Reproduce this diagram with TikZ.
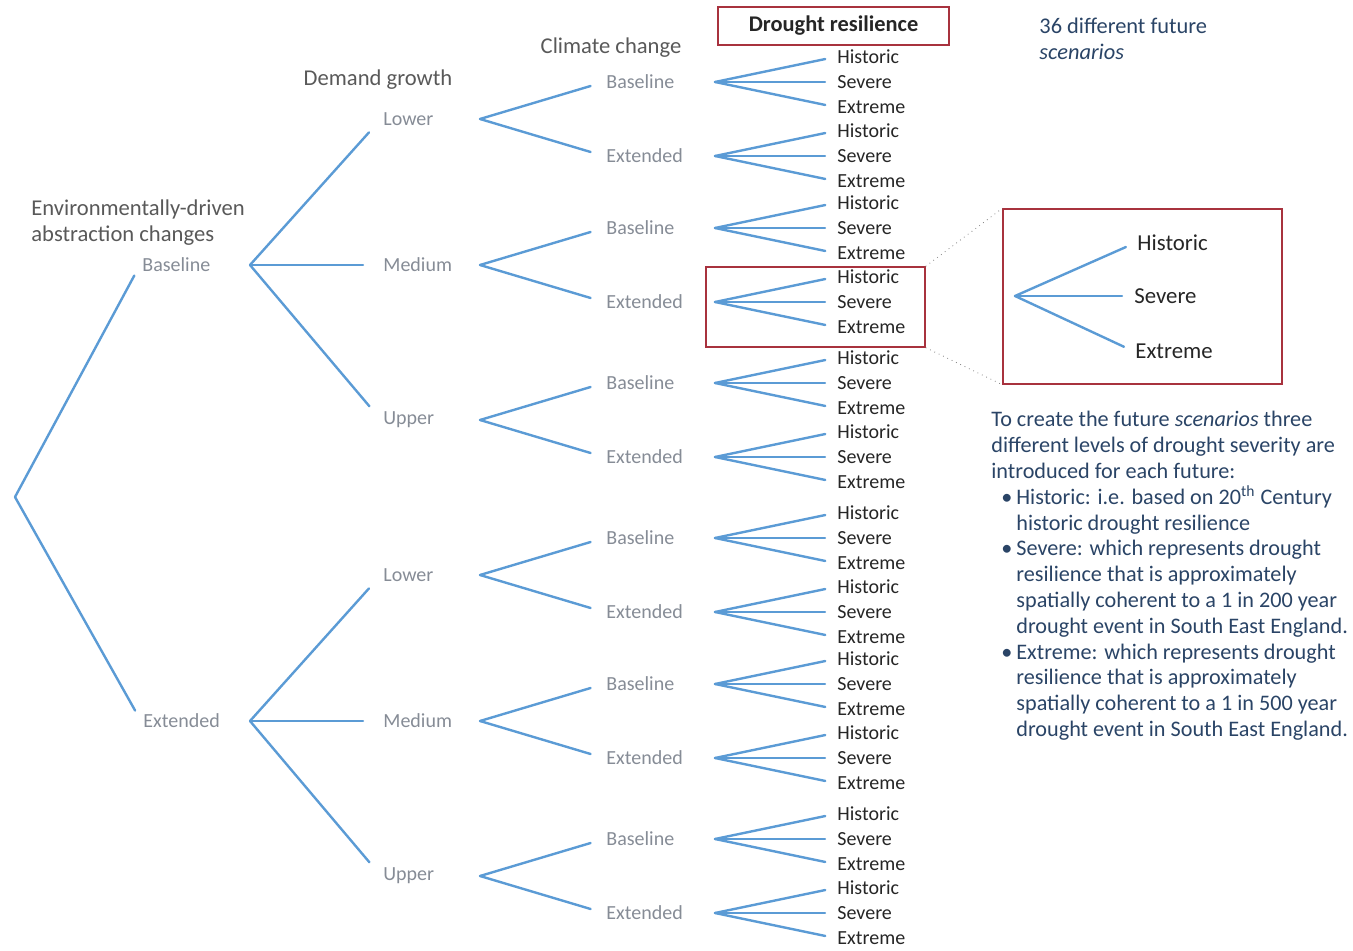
\documentclass[tikz,border=0pt]{standalone}
\usepackage{fontspec}
\setmainfont{Carlito}
\usetikzlibrary{positioning}

\definecolor{branchblue}{HTML}{5B9BD5}
\definecolor{lvlgray}{HTML}{868C96}
\definecolor{headgray}{HTML}{595959}
\definecolor{leafdark}{HTML}{262626}
\definecolor{boxred}{HTML}{A8323E}
\definecolor{noteblue}{HTML}{2A4466}

\tikzset{
  branch/.style={draw=branchblue, line width=1.2pt, shorten >=5pt, line cap=round},
  lvl/.style={font=\fontsize{10}{12}\selectfont, text=lvlgray, inner sep=1pt},
  leaf/.style={font=\fontsize{10}{12}\selectfont, text=leafdark, inner sep=1pt},
  header/.style={font=\fontsize{11.3}{13}\selectfont, text=headgray, inner sep=1pt},
  redbox/.style={draw=boxred, line width=0.7pt, inner sep=0pt},
}

\begin{document}
\begin{tikzpicture}[x=0.5pt,y=-0.5pt]
    \useasboundingbox (0,0) rectangle (1353,951);

    % Column headers
    \node[header, anchor=west, align=left] (envhead) at (29,223)
        {Environmentally-driven\\abstraction changes};
    \node[header] (demhead) at (378,80) {Demand growth};
    \node[header] (clihead) at (611,48) {Climate change};
    \node[redbox, minimum width=115.5pt, minimum height=19pt,
          font=\fontsize{11.2}{13}\selectfont\bfseries, text=leafdark] (drhead) at (833.5,26) {Drought resilience};

    % Abstraction changes
    \coordinate (root) at (15,497);
    \node[lvl, anchor=west] (envB) at (140,265) {Baseline};
    \node[lvl, anchor=west] (envE) at (141,721) {Extended};
    \draw[branch, shorten >=6pt] (root) -- (envB.west);
    \draw[branch, shorten >=6pt] (root) -- (envE.west);

    % Demand growth, climate change and drought resilience
    \foreach \e/\ey in {B/265, E/721} {
      \coordinate (ev\e) at (250,\ey);
      \foreach \d/\dname/\dy in {1/Lower/-146, 2/Medium/0, 3/Upper/155} {
        \node[lvl, anchor=west] (dem\e\d) at (381,\ey+\dy) {\dname};
        \draw[branch, shorten >=9pt] (ev\e) -- (dem\e\d.west);
        \coordinate (dv\e\d) at (480,\ey+\dy);
        \foreach \c/\cname/\cy in {1/Baseline/-37, 2/Extended/37} {
          \node[lvl, anchor=west] (cli\e\d\c) at (604,\ey+\dy+\cy) {\cname};
          \draw[branch, shorten >=7pt] (dv\e\d) -- (cli\e\d\c.west);
          \coordinate (cv\e\d\c) at (715,\ey+\dy+\cy);
          \foreach \r/\rname/\ry in {H/Historic/-25, S/Severe/0, X/Extreme/25} {
            \node[leaf, anchor=west] (dr\e\d\c\r) at (835,\ey+\dy+\cy+\ry) {\rname};
            \draw[branch] (cv\e\d\c) -- (dr\e\d\c\r.west);
          }
        }
      }
    }

    % Highlighted group and its enlargement
    \node[redbox, minimum width=109.5pt, minimum height=40pt] (hl) at (815.5,307) {};
    \node[redbox, minimum width=139.5pt, minimum height=87.5pt] (zoom) at (1142.5,296.5) {};
    \draw[gray, dotted, thin] (hl.north east) -- (zoom.north west);
    \draw[gray, dotted, thin] (hl.south east) -- (zoom.south west);

    \coordinate (zv) at (1015,296);
    \node[leaf, anchor=west, font=\fontsize{11.4}{13}\selectfont] (zH) at (1135,243) {Historic};
    \node[leaf, anchor=west, font=\fontsize{11.4}{13}\selectfont] (zS) at (1132,296) {Severe};
    \node[leaf, anchor=west, font=\fontsize{11.4}{13}\selectfont] (zX) at (1133,351) {Extreme};
    \draw[branch] (zv) -- (zH.west);
    \draw[branch] (zv) -- (zS.west);
    \draw[branch] (zv) -- (zX.west);

    % Notes
    \node[anchor=west, align=left, text=noteblue, inner sep=0pt,
          font=\fontsize{11.2}{13}\selectfont] (count) at (1039,39)
        {36 different future\\\textit{scenarios}};
    \node[anchor=north west, align=left, text=noteblue, inner sep=0pt,
          font=\fontsize{11.1}{12.9}\selectfont] (desc) at (991,411)
        {To create the future \textit{scenarios} three\\
         different levels of drought severity are\\
         introduced for each future:\\
         \makebox[12.5pt][l]{\hspace{5pt}\textbullet}Historic: i.e. based on 20\textsuperscript{th} Century\\
         \makebox[12.5pt]{}historic drought resilience\\
         \makebox[12.5pt][l]{\hspace{5pt}\textbullet}Severe: which represents drought\\
         \makebox[12.5pt]{}resilience that is approximately\\
         \makebox[12.5pt]{}spatially coherent to a 1 in 200 year\\
         \makebox[12.5pt]{}drought event in South East England.\\
         \makebox[12.5pt][l]{\hspace{5pt}\textbullet}Extreme: which represents drought\\
         \makebox[12.5pt]{}resilience that is approximately\\
         \makebox[12.5pt]{}spatially coherent to a 1 in 500 year\\
         \makebox[12.5pt]{}drought event in South East England.};
\end{tikzpicture}
\end{document}
